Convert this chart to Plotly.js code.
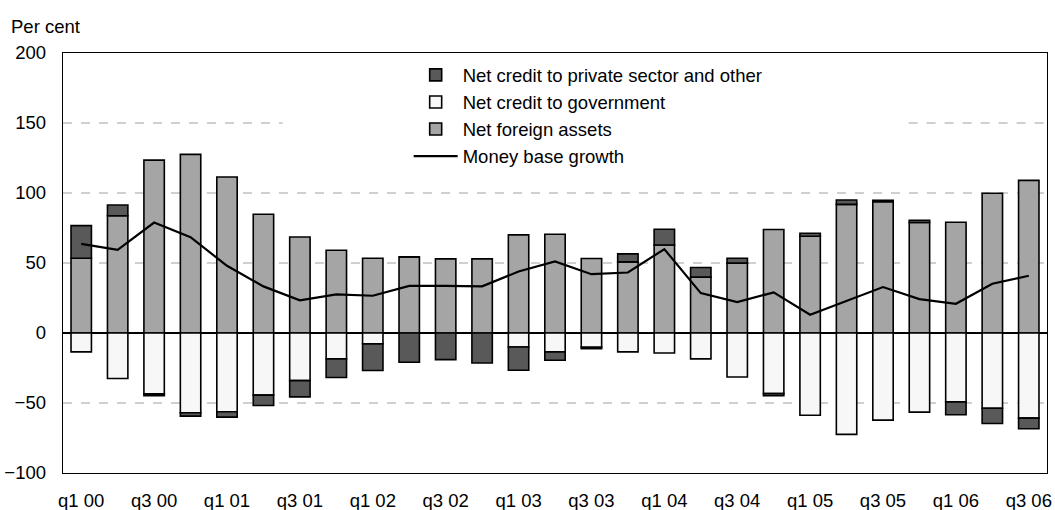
<!DOCTYPE html>
<html>
<head>
<meta charset="utf-8">
<script src="https://cdn.plot.ly/plotly-3.0.1.min.js"></script>
<style>html,body{margin:0;padding:0;background:#fff;}#chart{width:1055px;height:510px;}</style>
</head>
<body>
<div id="chart"></div>
<script>
var quarters = ["q1 00","q2 00","q3 00","q4 00","q1 01","q2 01","q3 01","q4 01","q1 02","q2 02","q3 02","q4 02","q1 03","q2 03","q3 03","q4 03","q1 04","q2 04","q3 04","q4 04","q1 05","q2 05","q3 05","q4 05","q1 06","q2 06","q3 06"];
var tickLabels = ["q1 00","q3 00","q1 01","q3 01","q1 02","q3 02","q1 03","q3 03","q1 04","q3 04","q1 05","q3 05","q1 06","q3 06"];
var yTicks = [-100,-50,0,50,100,150,200];
var netForeignAssets = [53.4,83.8,123.5,127.6,111.4,84.8,68.6,59.1,53.4,54.4,53,53,70.1,70.5,53.2,50.8,62.9,39.9,49.9,73.9,69.1,91.9,93.8,78.9,79.1,99.8,109];
var netCreditGov = [-13.5,-32.5,-43.5,-57,-56.3,-44.4,-34,-18.5,-7.8,0,0,0,-10,-13.5,-10.2,-13.5,-14.3,-18.5,-31.4,-43.2,-58.7,-72.4,-62.2,-56.5,-49.2,-53.7,-60.8];
var netCreditPrivate = [23.3,7.6,-1.2,-2.4,-3.8,-7.4,-11.6,-13.3,-19,-20.9,-19,-21.4,-16.6,-6,-1,5.7,11.2,6.9,3.5,-1.5,2.2,3.1,1,1.6,-9.2,-10.9,-7.6];
var moneyBaseGrowth = [63.7,59.4,78.9,68.4,48,33.3,23.3,27.6,26.6,33.7,33.7,33.3,43.9,51.1,42,43.2,59.9,28.5,22.1,29,13.1,23,32.8,24.2,20.9,35.2,40.9];

var outline = {color:'#000', width:1.6};
var traces = [
  {type:'bar', name:'Net foreign assets', x:quarters, y:netForeignAssets, marker:{color:'#a5a5a5', line:outline}, legendrank:3},
  {type:'bar', name:'Net credit to government', x:quarters, y:netCreditGov, marker:{color:'#f7f7f7', line:outline}, legendrank:2},
  {type:'bar', name:'Net credit to private sector and other', x:quarters, y:netCreditPrivate, marker:{color:'#595959', line:outline}, legendrank:1},
  {type:'scatter', mode:'lines', name:'Money base growth', x:quarters, y:moneyBaseGrowth, line:{color:'#000', width:2.2}, legendrank:4}
];

// dashed gridlines (the 150 line is interrupted behind the legend)
var gridStyle = {color:'#a0a0a0', width:1, dash:'dash'};
var shapes = [];
[-50,50,100].forEach(function(v){
  shapes.push({type:'line', xref:'paper', yref:'y', x0:0, x1:1, y0:v, y1:v, line:gridStyle, layer:'below'});
});
shapes.push({type:'line', xref:'paper', yref:'y', x0:0, x1:0.2233, y0:150, y1:150, line:gridStyle, layer:'below'});
shapes.push({type:'line', xref:'paper', yref:'y', x0:0.8594, x1:1, y0:150, y1:150, line:gridStyle, layer:'below'});

var layout = {
  width:1055, height:510,
  margin:{l:63, r:8, t:53, b:37},
  paper_bgcolor:'#fff', plot_bgcolor:'#fff',
  font:{family:'"Liberation Sans", Arial, sans-serif', size:18, color:'#000'},
  barmode:'relative', bargap:0.44,
  showlegend:true,
  legend:{x:0.3513, y:0.992, xanchor:'left', yanchor:'top', bgcolor:'rgba(0,0,0,0)', borderwidth:0,
          font:{size:18.5}, traceorder:'normal', itemwidth:44, tracegroupgap:0},
  xaxis:{type:'category', tickmode:'array', tickvals:tickLabels, ticktext:tickLabels, ticks:'', showgrid:false,
         showline:true, linecolor:'#000', linewidth:1.3, mirror:true, ticklabelstandoff:10, tickfont:{size:18.5},
         range:[-0.5, quarters.length-0.5], zeroline:false},
  yaxis:{range:[-100,200], tickvals:yTicks, ticks:'', showgrid:false,
         zeroline:true, zerolinecolor:'#000', zerolinewidth:1.2,
         showline:true, linecolor:'#000', linewidth:1.3, mirror:true, ticklabelstandoff:12, tickfont:{size:18.5}},
  shapes:shapes,
  annotations:[
    {text:'Per cent', xref:'paper', yref:'paper', x:-0.055, y:1.0635, xanchor:'left', yanchor:'middle', showarrow:false, font:{size:18.5}}
  ]
};

Plotly.newPlot('chart', traces, layout, {displayModeBar:false, staticPlot:true});
</script>
</body>
</html>
